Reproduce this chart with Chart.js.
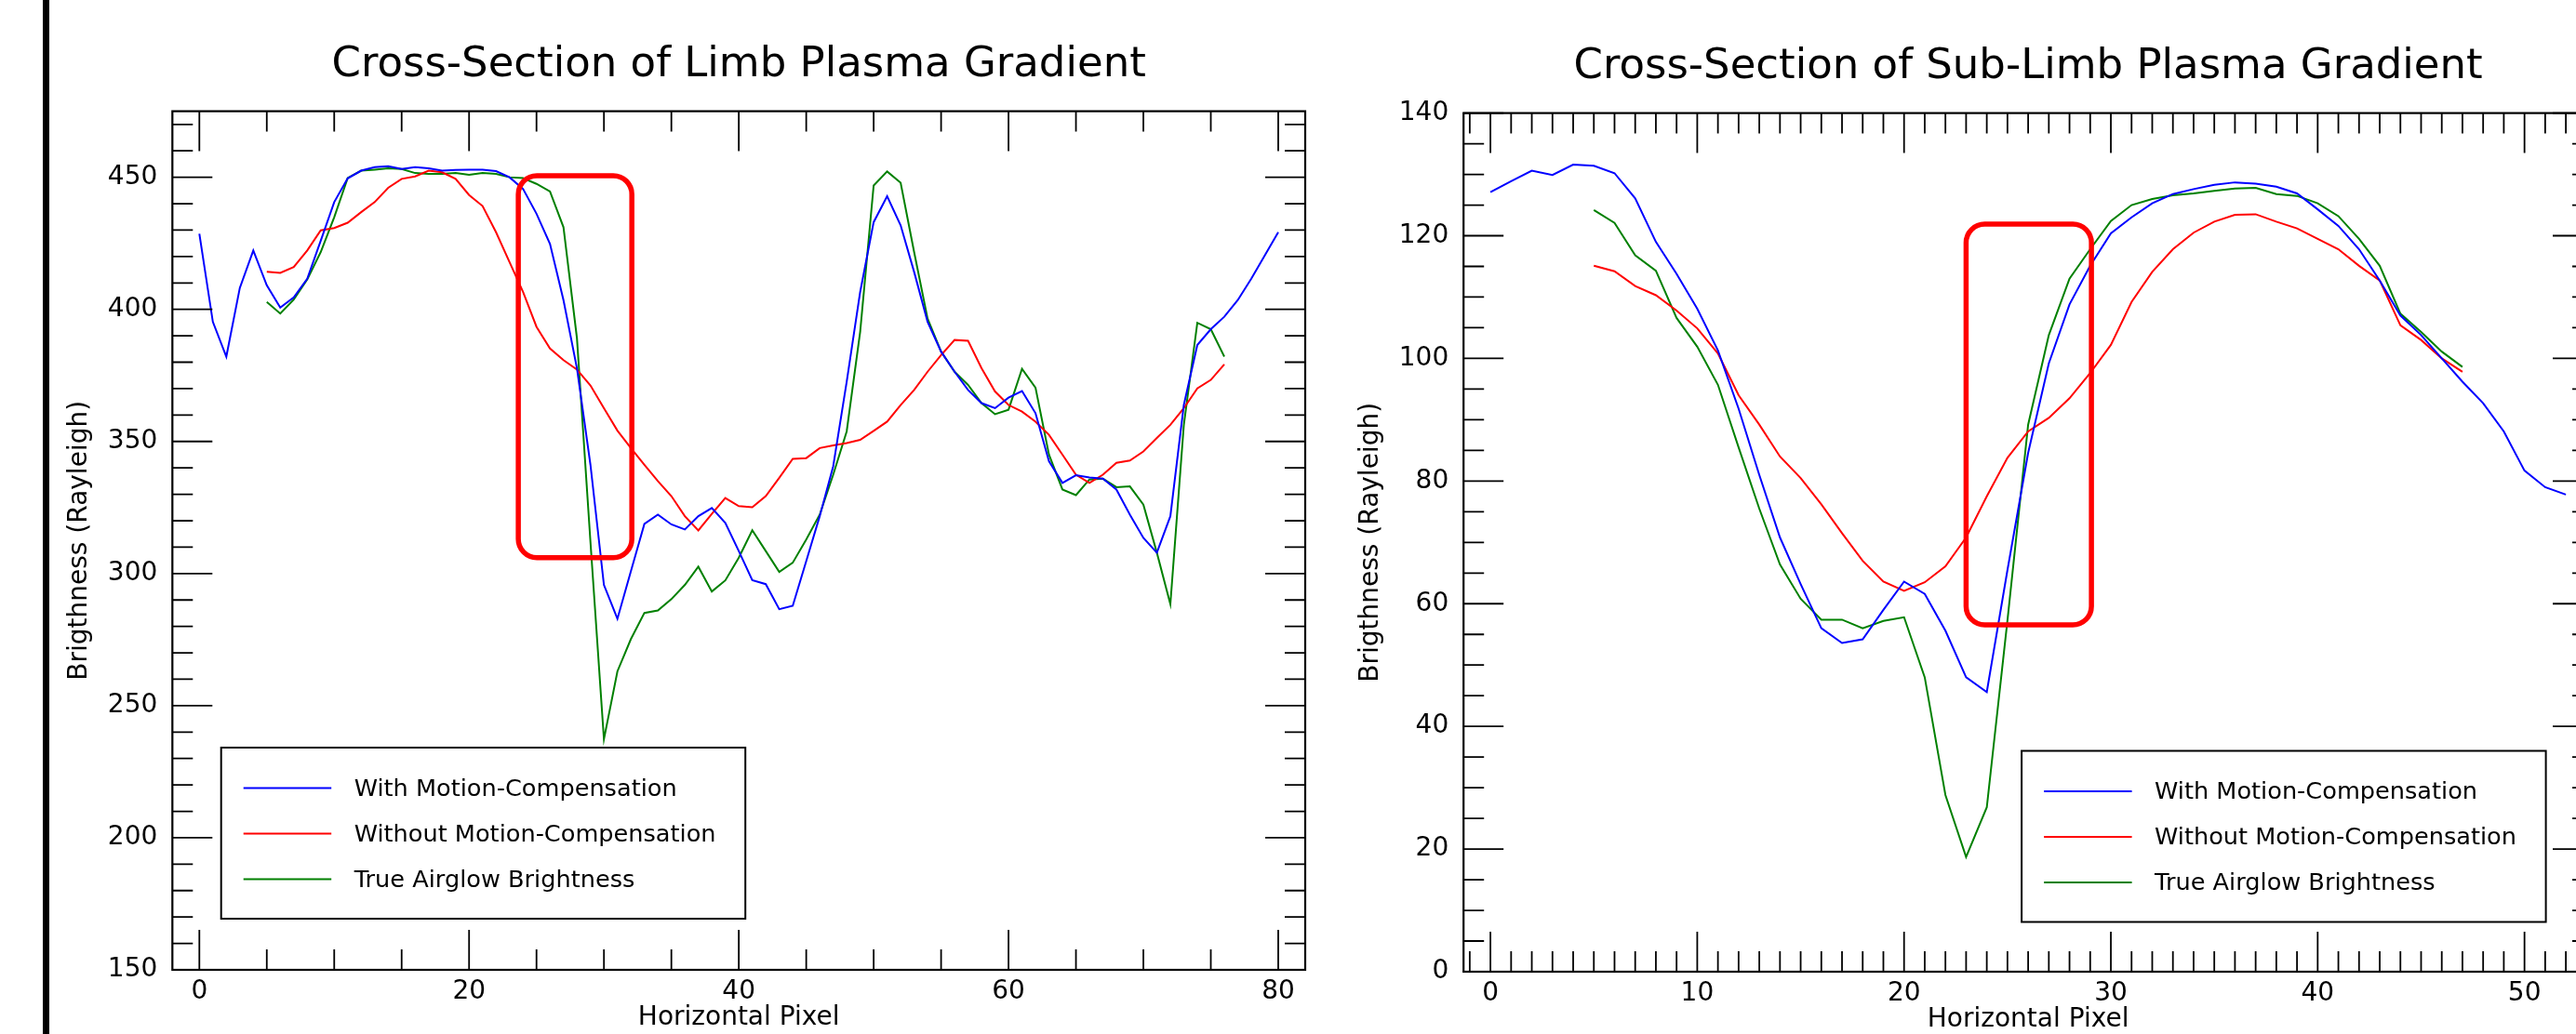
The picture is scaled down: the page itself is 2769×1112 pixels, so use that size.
<!DOCTYPE html>
<html>
<head>
<meta charset="utf-8">
<script src="https://cdn.jsdelivr.net/npm/chart.js@4.4.1/dist/chart.umd.min.js"></script>
<style>
html,body{margin:0;padding:0;background:#fff;overflow:hidden;width:2769px;height:1112px;position:relative;}
#bar{position:absolute;left:45.6px;top:0;width:7.6px;height:1112px;background:#000;}
#c1{position:absolute;left:0;top:0;width:1480px;height:1112px;}
#c2{position:absolute;left:1440px;top:2px;width:1420px;height:1112px;}
</style>
</head>
<body>
<div id="bar"></div>
<canvas id="c1" width="1480" height="1112"></canvas>
<canvas id="c2" width="1420" height="1112"></canvas>
<script>
// ---------------- data ----------------
const seriesNames = ['With Motion-Compensation', 'Without Motion-Compensation', 'True Airglow Brightness'];
const seriesColors = ['#0000ff', '#ff0000', '#008000'];

// Left panel: Cross-Section of Limb Plasma Gradient
const limbTitle = 'Cross-Section of Limb Plasma Gradient';
const limbPixel = [0,1,2,3,4,5,6,7,8,9,10,11,12,13,14,15,16,17,18,19,20,21,22,23,24,25,26,27,28,29,30,31,32,33,34,35,36,37,38,39,40,41,42,43,44,45,46,47,48,49,50,51,52,53,54,55,56,57,58,59,60,61,62,63,64,65,66,67,68,69,70,71,72,73,74,75,76,77,78,79,80];
const limbWithMC = [428.6,395.3,382.1,408.1,422.3,409.1,400.7,404.5,411.6,426.0,440.6,449.6,452.5,453.8,454.2,453.1,453.8,453.4,452.5,452.8,452.9,452.9,452.3,450.0,445.6,436.2,424.8,403.5,377.7,341.2,295.7,282.9,300.9,318.8,322.3,318.6,316.7,321.7,324.8,319.2,308.5,297.5,296.0,286.5,287.8,304.7,321.7,340.6,372.6,406.6,433.0,442.8,431.8,414.2,395.3,384.0,376.4,369.5,364.5,362.6,366.6,369.1,360.7,342.5,334.3,337.2,336.4,335.9,331.8,322.3,313.5,307.9,321.7,363.8,386.5,392.5,397.2,403.5,411.6,420.4,429.2];
const limbWithoutMC = [null,null,null,null,null,414.2,413.8,416.0,422.3,429.9,430.8,432.8,436.8,440.6,446.0,449.4,450.3,452.5,451.9,449.4,443.3,439.1,429.2,417.9,406.6,393.4,385.2,380.8,377.2,371.2,362.6,354.1,347.5,341.2,335.0,329.3,321.7,316.3,322.6,328.6,325.5,325.1,329.3,336.2,343.4,343.7,347.5,348.5,349.4,350.6,354.0,357.5,363.8,369.5,376.4,382.7,388.4,388.1,377.7,368.9,363.8,361.3,357.5,352.5,345.0,337.4,334.3,337.4,341.9,342.8,346.2,351.3,356.3,362.6,370.1,373.3,379.2,null,null,null,null];
const limbTrue = [null,null,null,null,null,402.8,398.4,403.7,411.3,421.7,434.9,449.7,452.5,452.9,453.4,453.1,451.6,451.3,451.3,451.6,450.9,451.6,451.3,450.0,449.7,447.5,444.6,431.1,389.0,312.0,237.3,263.0,275.2,285.1,286.0,290.3,295.7,302.6,293.2,297.4,306.0,316.4,308.5,300.6,304.1,312.9,322.3,337.4,353.8,391.5,446.9,452.2,447.9,421.7,396.5,384.0,376.4,371.4,364.5,360.3,362.0,377.5,370.4,345.0,331.8,329.7,335.6,335.9,332.7,333.0,326.1,307.9,288.4,356.3,394.9,392.5,382.1,null,null,null,null];
const limbXTicks = [0, 20, 40, 60, 80];
const limbYTicks = [150, 200, 250, 300, 350, 400, 450];
const limbHighlight = [23.65, 32.07, 306.0, 450.6]; // x from, x to, y from, y to (data units)

// Right panel: Cross-Section of Sub-Limb Plasma Gradient
const subTitle = 'Cross-Section of Sub-Limb Plasma Gradient';
const subPixel = [0,1,2,3,4,5,6,7,8,9,10,11,12,13,14,15,16,17,18,19,20,21,22,23,24,25,26,27,28,29,30,31,32,33,34,35,36,37,38,39,40,41,42,43,44,45,46,47,48,49,50,51,52];
const subWithMC = [127.1,128.9,130.6,129.9,131.6,131.4,130.2,126.1,119.0,113.8,108.1,101.3,91.8,81.0,70.8,63.2,56.0,53.6,54.2,59.0,63.6,61.6,55.6,48.0,45.6,65.5,84.6,99.2,108.8,115.1,120.4,123.0,125.3,126.8,127.6,128.3,128.7,128.5,128.0,126.9,124.3,121.6,117.8,112.7,107.0,103.8,100.0,96.2,92.7,88.1,81.7,79.0,77.8];
const subWithoutMC = [null,null,null,null,null,115.1,114.2,111.8,110.3,107.8,104.9,100.8,94.0,89.2,84.0,80.5,76.2,71.5,67.0,63.6,62.1,63.5,66.1,70.8,77.5,83.8,88.1,90.3,93.5,97.6,102.2,109.2,114.1,117.8,120.5,122.3,123.4,123.5,122.3,121.2,119.5,117.8,115.1,112.7,105.4,103.0,100.0,97.8,null,null,null,null,null];
const subTrue = [null,null,null,null,null,124.2,122.1,116.8,114.3,106.6,101.9,95.7,85.5,75.5,66.4,60.8,57.4,57.4,56.0,57.2,57.8,48.0,28.8,18.7,26.8,57.3,89.2,103.8,113.0,117.8,122.4,125.0,126.0,126.6,126.9,127.3,127.7,127.8,126.8,126.5,125.3,123.2,119.5,115.1,107.3,104.3,101.1,98.6,null,null,null,null,null];
const subXTicks = [0, 10, 20, 30, 40, 50];
const subYTicks = [0, 20, 40, 60, 80, 100, 120, 140];
const subHighlight = [23.0, 29.06, 56.55, 121.9];

// ---------------- rendering ----------------
const FONT = "'DejaVu Sans', 'Noto Sans', sans-serif";
Chart.defaults.font.family = FONT;
Chart.defaults.color = '#000';

const framePlugin = {
  id: 'frameTicks',
  afterDraw(chart, args, o) {
    const {ctx, chartArea: a} = chart;
    const xs = chart.scales.x, ys = chart.scales.y;
    ctx.save();
    ctx.strokeStyle = '#000';
    ctx.lineCap = 'butt';
    ctx.lineWidth = o.tickWidth;
    ctx.beginPath();
    const isMajor = (v, m) => Math.abs(v / m - Math.round(v / m)) < 1e-6;
    for (let k = Math.ceil(xs.min / o.xMinor - 1e-9); k * o.xMinor <= xs.max + 1e-9; k++) {
      const v = k * o.xMinor;
      const px = xs.getPixelForValue(v);
      const len = isMajor(v, o.xMajor) ? o.majorLen : o.minorLen;
      ctx.moveTo(px, a.bottom); ctx.lineTo(px, a.bottom - len);
      ctx.moveTo(px, a.top); ctx.lineTo(px, a.top + len);
    }
    for (let k = Math.ceil(ys.min / o.yMinor - 1e-9); k * o.yMinor <= ys.max + 1e-9; k++) {
      const v = k * o.yMinor;
      const py = ys.getPixelForValue(v);
      const len = isMajor(v, o.yMajor) ? o.majorLen : o.minorLen;
      ctx.moveTo(a.left, py); ctx.lineTo(a.left + len, py);
      ctx.moveTo(a.right, py); ctx.lineTo(a.right - len, py);
    }
    ctx.stroke();
    ctx.lineWidth = o.frameWidth;
    ctx.strokeRect(a.left, a.top, a.right - a.left, a.bottom - a.top);
    ctx.restore();
  }
};

const notePlugin = {
  id: 'highlightBox',
  afterDatasetsDraw(chart, args, o) {
    const {ctx} = chart;
    const xs = chart.scales.x, ys = chart.scales.y;
    const [x0, x1, y0, y1] = o.box;
    const L = xs.getPixelForValue(x0), R = xs.getPixelForValue(x1);
    const T = ys.getPixelForValue(y1), B = ys.getPixelForValue(y0);
    const r = o.radius;
    ctx.save();
    ctx.strokeStyle = o.color;
    ctx.lineWidth = o.width;
    ctx.beginPath();
    ctx.moveTo(L + r, T);
    ctx.lineTo(R - r, T);
    ctx.arcTo(R, T, R, T + r, r);
    ctx.lineTo(R, B - r);
    ctx.arcTo(R, B, R - r, B, r);
    ctx.lineTo(L + r, B);
    ctx.arcTo(L, B, L, B - r, r);
    ctx.lineTo(L, T + r);
    ctx.arcTo(L, T, L + r, T, r);
    ctx.closePath();
    ctx.stroke();
    ctx.restore();
  }
};

const legendPlugin = {
  id: 'innerLegend',
  afterDraw(chart, args, o) {
    const {ctx, chartArea: a} = chart;
    const left = o.align === 'left' ? a.left + o.offsetX : a.right - o.offsetX - o.width;
    const top = a.bottom - o.offsetY - o.height;
    ctx.save();
    ctx.fillStyle = '#fff';
    ctx.fillRect(left, top, o.width, o.height);
    ctx.strokeStyle = '#000';
    ctx.lineWidth = 2;
    ctx.strokeRect(left, top, o.width, o.height);
    ctx.font = o.fontSize + 'px ' + FONT;
    ctx.textBaseline = 'middle';
    ctx.textAlign = 'left';
    chart.data.datasets.forEach((ds, i) => {
      const ry = top + o.firstRow + i * o.rowGap;
      ctx.strokeStyle = ds.borderColor;
      ctx.lineWidth = 2;
      ctx.beginPath();
      ctx.moveTo(left + o.lineStart, ry);
      ctx.lineTo(left + o.lineEnd, ry);
      ctx.stroke();
      ctx.fillStyle = '#000';
      ctx.fillText(ds.label, left + o.textStart, ry + 1.7);
    });
    ctx.restore();
  }
};

function makeChart(id, cfg) {
  const tickFont = {family: FONT, size: 28};
  return new Chart(document.getElementById(id), {
    type: 'line',
    data: {
      labels: cfg.pixels,
      datasets: cfg.series.map((s, i) => ({
        label: seriesNames[i],
        data: s,
        borderColor: seriesColors[i],
        backgroundColor: seriesColors[i],
        borderWidth: 2,
        pointRadius: 0,
        tension: 0,
        fill: false,
        spanGaps: false
      }))
    },
    options: {
      responsive: false,
      animation: false,
      devicePixelRatio: 1,
      events: [],
      layout: {padding: {left: 0, top: 0, right: cfg.padRight, bottom: 0}},
      plugins: {
        legend: {display: false},
        tooltip: {enabled: false},
        title: {
          display: true, text: cfg.title, fullSize: false, color: '#000',
          font: {family: FONT, size: 45, weight: 'normal'},
          padding: {top: 43, bottom: 22.6}
        },
        frameTicks: {xMajor: cfg.xMajor, xMinor: cfg.xMinor, yMajor: cfg.yMajor, yMinor: cfg.yMinor,
                     majorLen: 43, minorLen: 22, tickWidth: 1.8, frameWidth: 2.2},
        highlightBox: {box: cfg.highlight, radius: 20, width: 5.5, color: '#ff0000'},
        innerLegend: Object.assign({width: 563.5, height: 184, firstRow: 43.5, rowGap: 49,
                      lineStart: 24, lineEnd: 118.5, textStart: 143, fontSize: 25.6}, cfg.legend)
      },
      scales: {
        x: {
          type: 'linear', position: 'bottom', min: cfg.xMin, max: cfg.xMax,
          grid: {display: false, drawTicks: false},
          border: {display: false},
          afterBuildTicks: s => { s.ticks = cfg.xTicks.map(v => ({value: v})); },
          afterFit: s => { s.height = 69; },
          ticks: {font: tickFont, color: '#000', padding: 7, autoSkip: false, maxRotation: 0,
                  callback: v => String(v)},
          title: {display: true, text: 'Horizontal Pixel', color: '#000', font: tickFont,
                  padding: {top: 0, bottom: 0}}
        },
        y: {
          type: 'linear', position: 'left', min: cfg.yMin, max: cfg.yMax,
          grid: {display: false, drawTicks: false},
          border: {display: false},
          afterBuildTicks: s => { s.ticks = cfg.yTicks.map(v => ({value: v})); },
          afterFit: s => { s.width = cfg.yWidth; },
          ticks: {font: tickFont, color: '#000', padding: 16, autoSkip: false,
                  callback: v => String(v)},
          title: {display: true, text: 'Brigthness (Rayleigh)', color: '#000', font: tickFont,
                  padding: {top: cfg.yTitlePad, bottom: 0}}
        }
      }
    },
    plugins: [framePlugin, notePlugin, legendPlugin]
  });
}

makeChart('c1', {
  title: limbTitle, pixels: limbPixel, series: [limbWithMC, limbWithoutMC, limbTrue],
  xMin: -2, xMax: 82, yMin: 150, yMax: 475,
  xTicks: limbXTicks, yTicks: limbYTicks,
  xMajor: 20, xMinor: 5, yMajor: 50, yMinor: 10,
  highlight: limbHighlight,
  padRight: 77, yWidth: 185.3, yTitlePad: 68.5,
  legend: {align: 'left', offsetX: 52.4, offsetY: 55}
});

makeChart('c2', {
  title: subTitle, pixels: subPixel, series: [subWithMC, subWithoutMC, subTrue],
  xMin: -1.3, xMax: 53.3, yMin: 0, yMax: 140,
  xTicks: subXTicks, yTicks: subYTicks,
  xMajor: 10, xMinor: 1, yMajor: 20, yMinor: 5,
  highlight: subHighlight,
  padRight: 73, yWidth: 133.2, yTitlePad: 17.2,
  legend: {align: 'right', offsetX: 50.4, offsetY: 53.5}
});
</script>
</body>
</html>
